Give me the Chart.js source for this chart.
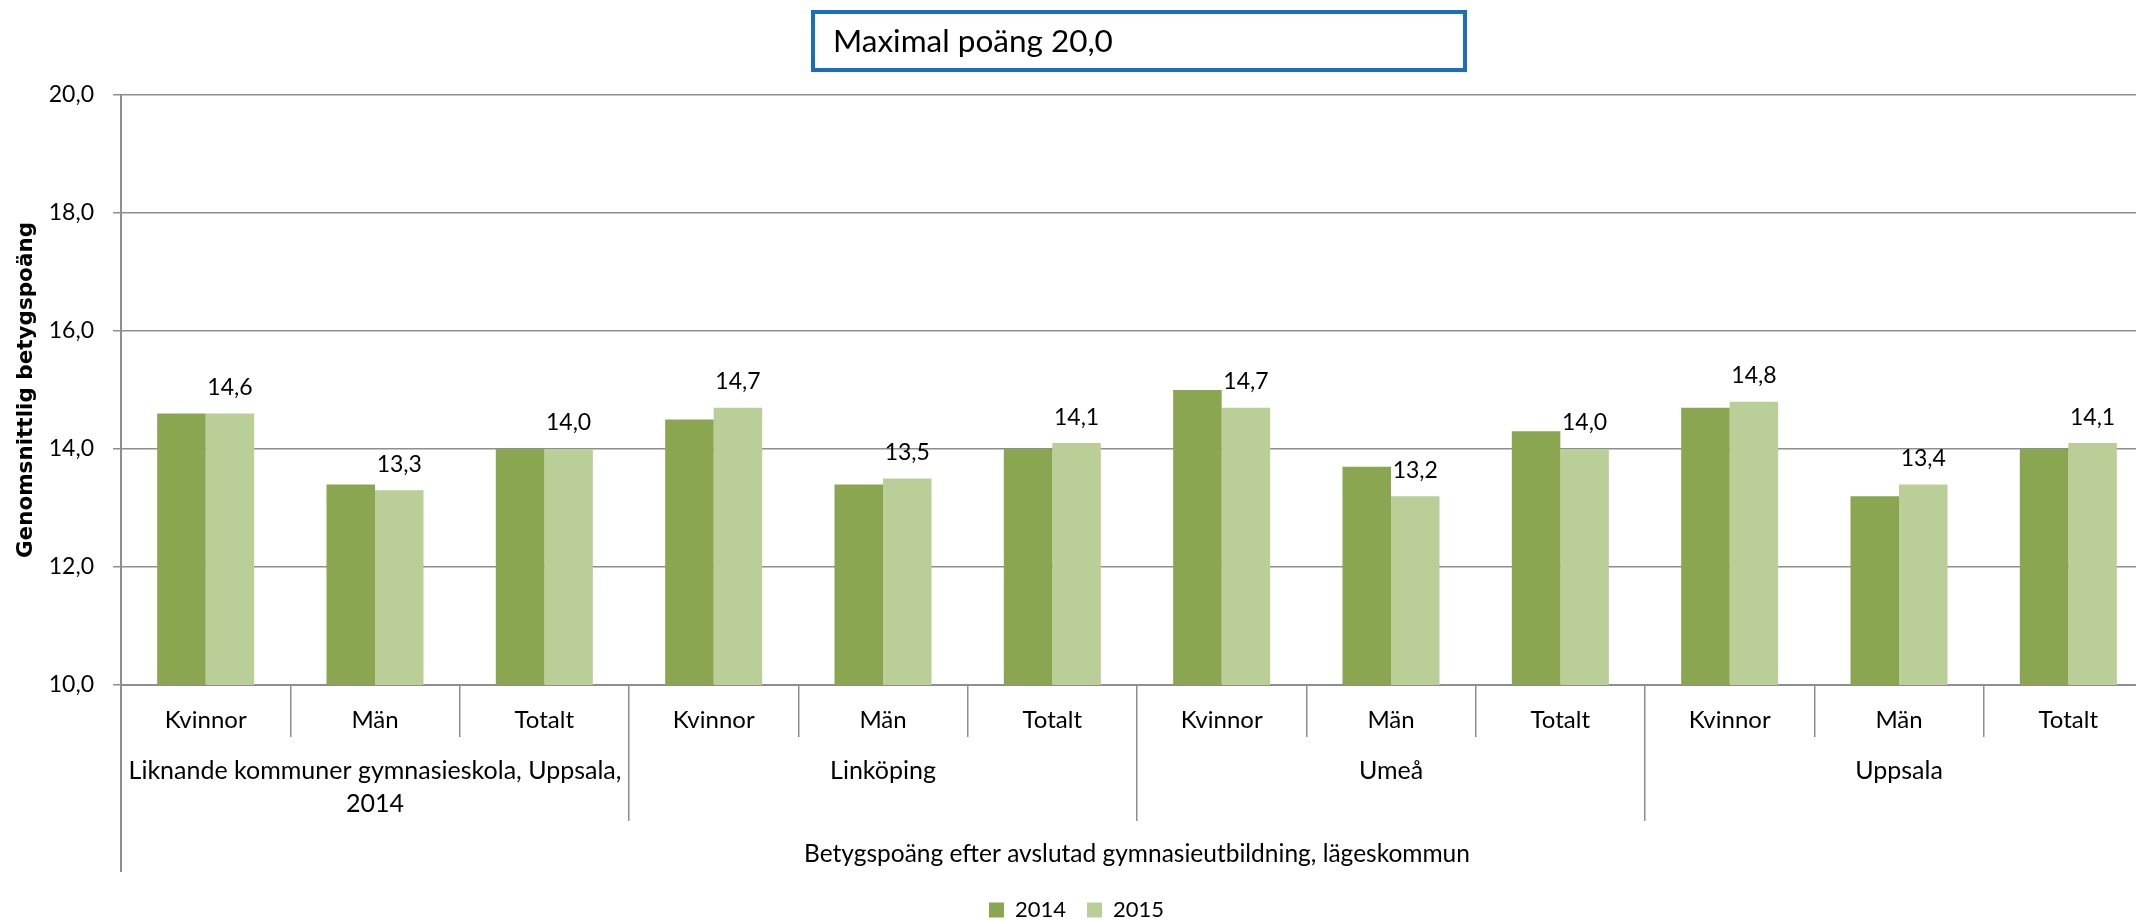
<!DOCTYPE html>
<html>
<head>
<meta charset="utf-8">
<title>Betygspoäng</title>
<script src="https://cdn.jsdelivr.net/npm/chart.js@4.4.1/dist/chart.umd.min.js"></script>
<style>
  html, body { margin: 0; padding: 0; background: #fff; overflow: hidden; }
  #wrap { width: 2160px; height: 931px; position: relative; }
</style>
</head>
<body>
<div id="wrap"><canvas id="betyg"></canvas></div>
<script>
// kategorier
var subLabels = ['Kvinnor', 'Män', 'Totalt', 'Kvinnor', 'Män', 'Totalt',
                 'Kvinnor', 'Män', 'Totalt', 'Kvinnor', 'Män', 'Totalt'];
var groupLabels = [['Liknande kommuner gymnasieskola, Uppsala,', '2014'], 'Linköping', 'Umeå', 'Uppsala'];

// värden
var values2014 = [14.6, 13.4, 14.0, 14.5, 13.4, 14.0, 15.0, 13.7, 14.3, 14.7, 13.2, 14.0];
var values2015 = [14.6, 13.3, 14.0, 14.7, 13.5, 14.1, 14.7, 13.2, 14.0, 14.8, 13.4, 14.1];

var yTicks = [10, 12, 14, 16, 18, 20];

function komma(v) {
  return v.toFixed(1).replace('.', ',');
}

Chart.defaults.font.family = 'Lato, "Open Sans", sans-serif';
Chart.defaults.color = '#000';

// värdeetiketter ovanför 2015-staplarna
var valueLabels = {
  id: 'valueLabels',
  afterDatasetsDraw: function(chart) {
    var ctx = chart.ctx;
    ctx.save();
    ctx.font = '23px Lato, sans-serif';
    ctx.fillStyle = '#000';
    ctx.textAlign = 'center';
    ctx.textBaseline = 'middle';
    chart.data.datasets.forEach(function(ds, i) {
      if (!ds.showValue) return;
      chart.getDatasetMeta(i).data.forEach(function(bar, j) {
        ctx.fillText(komma(ds.data[j]), bar.x, bar.y - 26);
      });
    });
    ctx.restore();
  }
};

// ruta "Maximal poäng" + förlängd y-axel
var extras = {
  id: 'extras',
  afterDraw: function(chart) {
    var ctx = chart.ctx;
    var area = chart.chartArea;
    ctx.save();
    ctx.strokeStyle = '#8e8e8e';
    ctx.lineWidth = 2;
    ctx.beginPath();
    ctx.moveTo(area.left, area.bottom);
    ctx.lineTo(area.left, chart.scales.x2.bottom - 6);
    ctx.stroke();

    ctx.strokeStyle = '#1B6EBB';
    ctx.lineWidth = 4;
    ctx.strokeRect(813, 12, 652, 58);
    ctx.fillStyle = '#000';
    ctx.font = '31.5px Lato, sans-serif';
    ctx.textBaseline = 'middle';
    ctx.textAlign = 'left';
    ctx.fillText('Maximal poäng 20,0', 833, 42);
    ctx.restore();
  }
};

new Chart(document.getElementById('betyg'), {
  type: 'bar',
  data: {
    labels: subLabels,
    datasets: [
      { label: '2014', data: values2014, backgroundColor: '#8AA651', showValue: false },
      { label: '2015', data: values2015, backgroundColor: '#BACF97', showValue: true }
    ]
  },
  options: {
    responsive: true,
    maintainAspectRatio: false,
    animation: false,
    categoryPercentage: 0.573,
    barPercentage: 1,
    layout: { padding: { top: 95, right: 7, left: 0, bottom: 0 } },
    plugins: {
      legend: {
        position: 'bottom',
        labels: { boxWidth: 15, boxHeight: 15, padding: 21, font: { size: 22 } }
      },
      tooltip: { enabled: false }
    },
    scales: {
      x: {
        grid: { display: true, drawOnChartArea: false, offset: true, tickLength: 52, color: '#8e8e8e', lineWidth: 1.5 },
        border: { color: '#8e8e8e', width: 2 },
        ticks: { padding: -31, font: { size: 24 }, autoSkip: false, maxRotation: 0 },
        afterFit: function(scale) { scale.height = 52; }
      },
      x2: {
        type: 'category',
        labels: groupLabels,
        position: 'bottom',
        offset: true,
        grid: { drawOnChartArea: false, offset: true, tickLength: 84, color: '#8e8e8e', lineWidth: 1.5 },
        border: { display: false },
        ticks: { padding: -66, font: { size: 25, lineHeight: 1.3 }, autoSkip: false, maxRotation: 0 },
        title: {
          display: true,
          text: 'Betygspoäng efter avslutad gymnasieutbildning, lägeskommun',
          font: { size: 24.5 },
          padding: { top: 0, bottom: 9 }
        },
        afterFit: function(scale) { scale.height = 141; }
      },
      y: {
        min: 10,
        max: 20,
        afterBuildTicks: function(axis) {
          axis.ticks = yTicks.map(function(v) { return { value: v }; });
        },
        ticks: { padding: 19, font: { size: 23 }, callback: function(v) { return komma(v); } },
        grid: { color: '#8e8e8e', lineWidth: 1.5, tickLength: 8 },
        border: { color: '#8e8e8e', width: 2 },
        title: {
          display: true,
          text: 'Genomsnittlig betygspoäng',
          font: { family: '"DejaVu Sans", sans-serif', size: 21.5, weight: 'bold' },
          padding: { top: 14, bottom: 0 }
        },
        afterFit: function(scale) { scale.width = 121; }
      }
    }
  },
  plugins: [valueLabels, extras]
});
</script>
</body>
</html>
